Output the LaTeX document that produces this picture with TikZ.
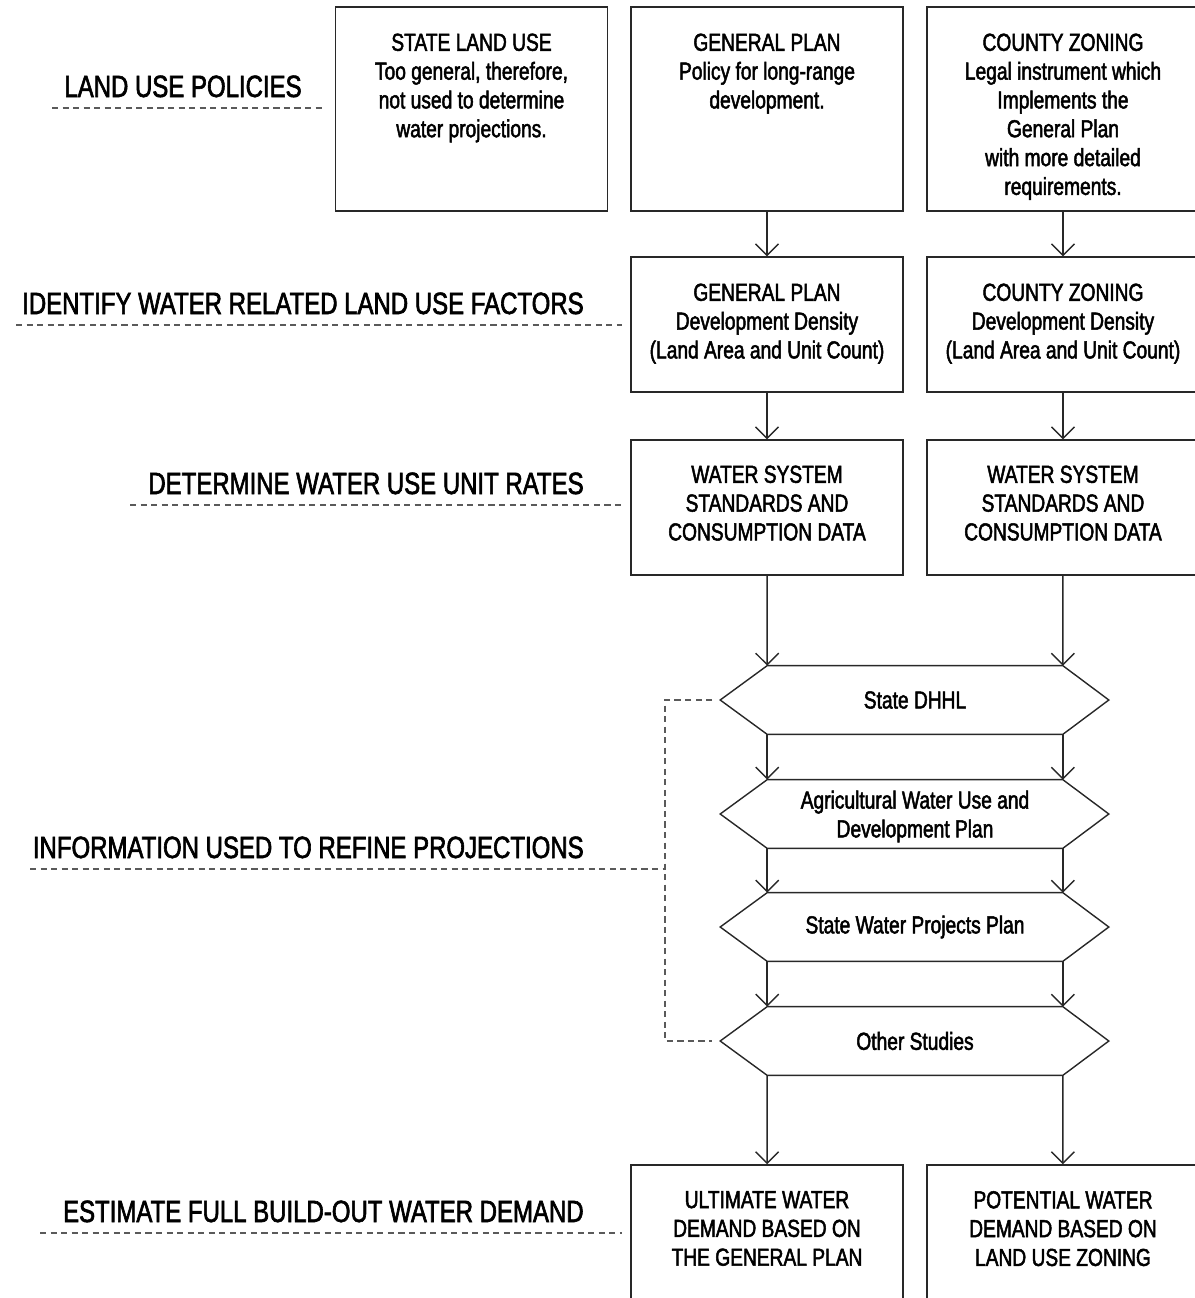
\documentclass[tikz,border=0pt]{standalone}
\usepackage{fontspec}
\setmainfont{Liberation Sans}[FakeStretch=0.78,FakeBold=2]
\usepackage{tikz}
\usetikzlibrary{positioning,arrows.meta,calc}
\definecolor{linecolor}{RGB}{40,40,40}
\definecolor{leadcolor}{RGB}{90,90,90}
\newcommand{\boxfont}{\fontsize{14pt}{16.4pt}\selectfont}
\newcommand{\lblfont}{\fontsize{17.5pt}{20pt}\selectfont}
\tikzset{
  plan box/.style={
    rectangle,
    draw=linecolor,
    line width=0.85pt,
    minimum width=5.44cm,
    inner sep=0pt
  },
  plan text/.style={
    align=center,
    inner sep=0pt,
    font=\boxfont
  },
  hex core/.style={
    rectangle,
    minimum width=5.9cm,
    minimum height=1.36cm,
    inner sep=0pt,
    align=center,
    font=\boxfont
  },
  step label/.style={
    anchor=base east,
    inner sep=0pt,
    font=\lblfont
  },
  flow/.style={
    -{Straight Barb[length=2.3mm,width=4.6mm]},
    draw=linecolor,
    line width=0.8pt
  },
  leader/.style={
    draw=leadcolor,
    line width=0.6pt,
    dash pattern=on 3.5pt off 2.5pt
  }
}

\begin{document}
\begin{tikzpicture}[x=0.02cm,y=-0.02cm]
  \useasboundingbox (0,0) rectangle (1194,1298);

  % Land use policies
  \node[plan box, minimum height=4.08cm] (slu) at (471.5,109) {};
  \node[plan box, minimum height=4.08cm] (gp) at (767,109) {};
  \node[plan box, minimum height=4.08cm] (cz) at (1063,109) {};
  \node[plan text, below=5.4mm of slu.north] {STATE LAND USE\\Too general, therefore,\\not used to determine\\water projections.};
  \node[plan text, below=5.4mm of gp.north] {GENERAL PLAN\\Policy for long-range\\development.};
  \node[plan text, below=5.4mm of cz.north] {COUNTY ZONING\\Legal instrument which\\Implements the\\General Plan\\with more detailed\\requirements.};

  % Land use factors
  \node[plan box, minimum height=2.7cm] (gpd) at (767,324.5) {};
  \node[plan box, minimum height=2.7cm] (czd) at (1063,324.5) {};
  \node[plan text, below=5.4mm of gpd.north] {GENERAL PLAN\\Development Density\\(Land Area and Unit Count)};
  \node[plan text, below=5.4mm of czd.north] {COUNTY ZONING\\Development Density\\(Land Area and Unit Count)};

  % Unit rates
  \node[plan box, minimum height=2.7cm] (gpw) at (767,507.5) {};
  \node[plan box, minimum height=2.7cm] (czw) at (1063,507.5) {};
  \node[plan text, below=5.2mm of gpw.north] {WATER SYSTEM\\STANDARDS AND\\CONSUMPTION DATA};
  \node[plan text, below=5.2mm of czw.north] {WATER SYSTEM\\STANDARDS AND\\CONSUMPTION DATA};

  % Refining information
  \node[hex core] (hx1) at (915,700) {State DHHL};
  \node[hex core, text depth=0pt] (hx2) at (915,814) {Agricultural Water Use and\\Development Plan};
  \node[hex core] (hx3) at (915,927) {State Water Projects Plan};
  \node[hex core] (hx4) at (915,1041) {Other Studies};
  \foreach \h in {hx1,hx2,hx3,hx4}
    \draw[draw=linecolor, line width=0.8pt] (\h.north west) -- (\h.north east)
      -- ([xshift=0.92cm]\h.east) -- (\h.south east) -- (\h.south west)
      -- ([xshift=-0.94cm]\h.west) -- cycle;

  % Build-out demand
  \node[plan box, minimum height=2.7cm] (ult) at (767,1232.5) {};
  \node[plan box, minimum height=2.7cm] (pot) at (1063,1232.5) {};
  \node[plan text, below=5.3mm of ult.north] {ULTIMATE WATER\\DEMAND BASED ON\\THE GENERAL PLAN};
  \node[plan text, below=5.3mm of pot.north] {POTENTIAL WATER\\DEMAND BASED ON\\LAND USE ZONING};

  % Flow
  \draw[flow] (gp) -- (gpd);
  \draw[flow] (cz) -- (czd);
  \draw[flow] (gpd) -- (gpw);
  \draw[flow] (czd) -- (czw);
  \draw[flow] (gpw) -- (hx1.north west);
  \draw[flow] (czw) -- (hx1.north east);
  \draw[flow] (hx1.south west) -- (hx2.north west);
  \draw[flow] (hx1.south east) -- (hx2.north east);
  \draw[flow] (hx2.south west) -- (hx3.north west);
  \draw[flow] (hx2.south east) -- (hx3.north east);
  \draw[flow] (hx3.south west) -- (hx4.north west);
  \draw[flow] (hx3.south east) -- (hx4.north east);
  \draw[flow] (hx4.south west) -- (ult);
  \draw[flow] (hx4.south east) -- (pot);

  % Step labels
  \node[step label] (lp) at (302,97) {LAND USE POLICIES};
  \node[step label] (lf) at (584,314) {IDENTIFY WATER RELATED LAND USE FACTORS};
  \node[step label] (ur) at (584,494) {DETERMINE WATER USE UNIT RATES};
  \node[step label] (ri) at (584,858) {INFORMATION USED TO REFINE PROJECTIONS};
  \node[step label] (bd) at (584,1222) {ESTIMATE FULL BUILD-OUT WATER DEMAND};

  \coordinate (brk) at (665,869);
  \draw[leader] (52,108) -- (325,108);
  \draw[leader] (16,325) -- (622,325);
  \draw[leader] (130,505) -- (622,505);
  \draw[leader] (30,869) -- (brk);
  \draw[leader] (40,1233) -- (622,1233);
  \draw[leader] ([xshift=-1.1cm]hx1.west) -| (brk) |- ([xshift=-1.1cm]hx4.west);
\end{tikzpicture}
\end{document}
